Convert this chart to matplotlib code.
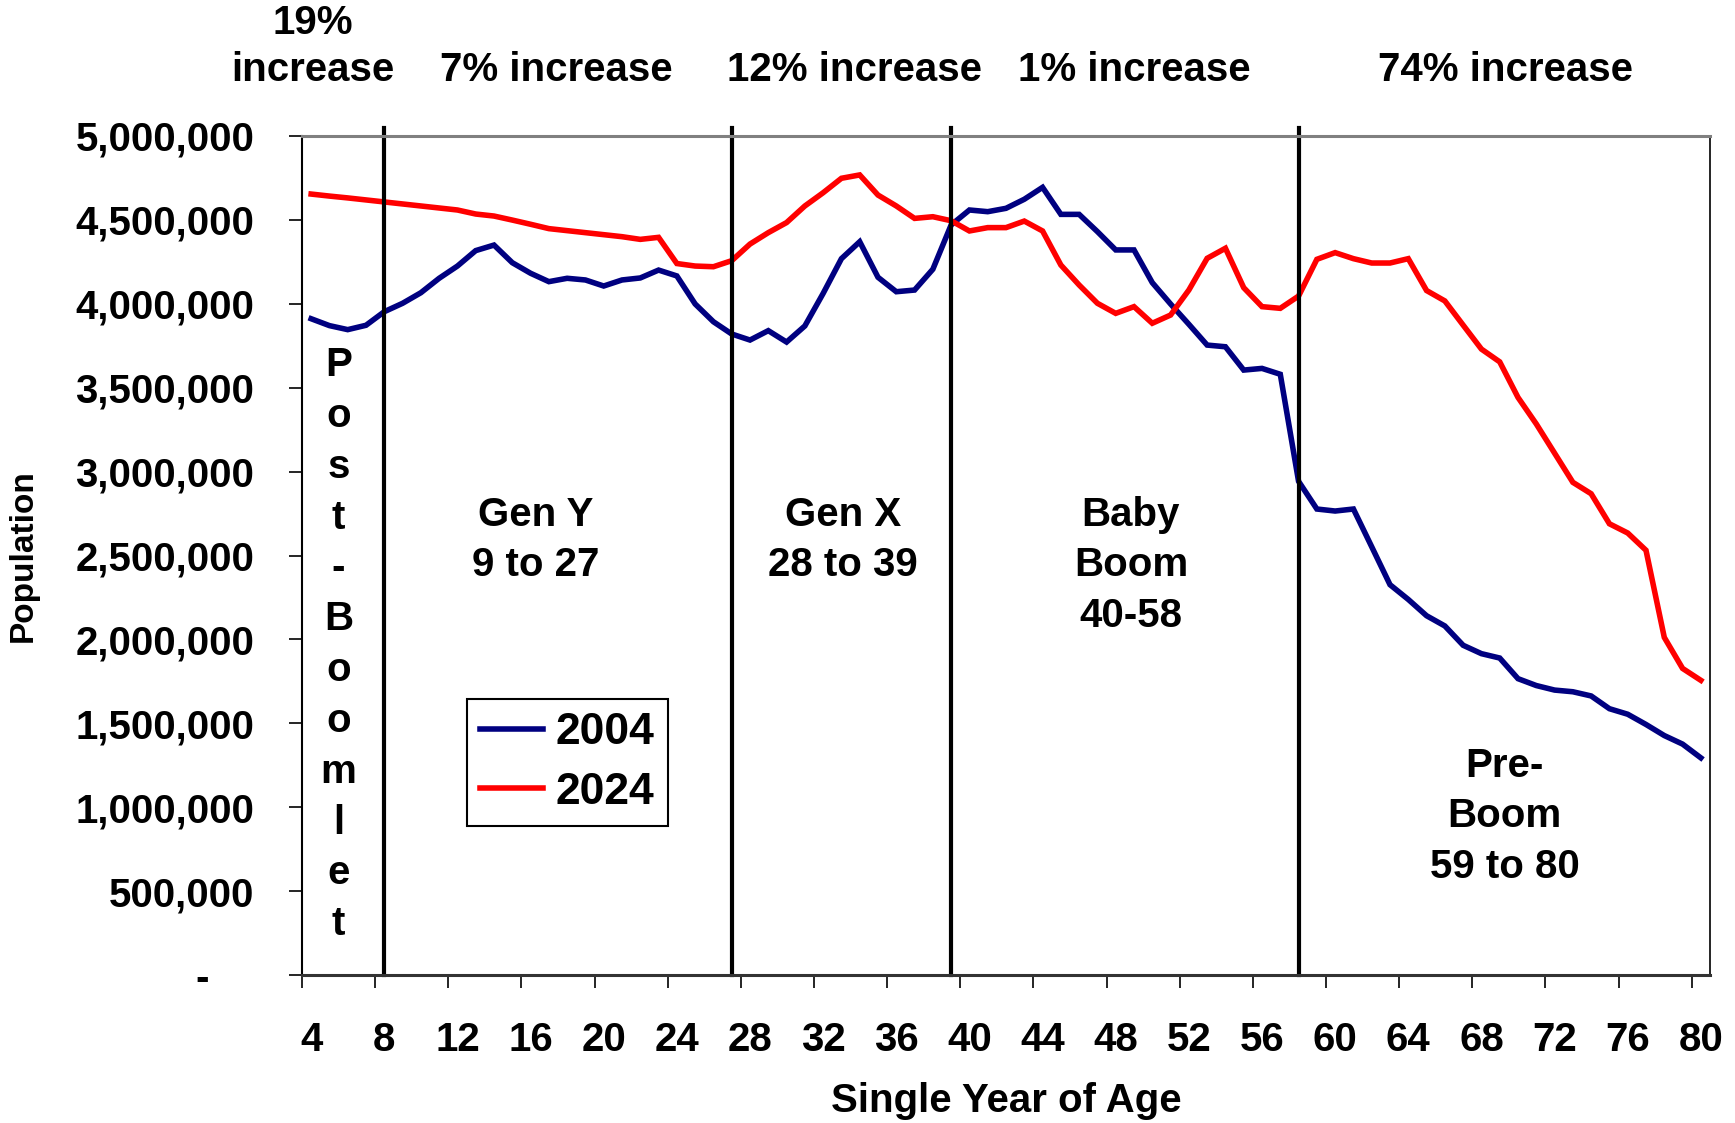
import matplotlib
matplotlib.use('Agg')
import matplotlib.pyplot as plt
import numpy as np
from matplotlib.ticker import FuncFormatter, MultipleLocator, FixedLocator

plt.rcParams['font.family'] = ['Liberation Sans', 'DejaVu Sans']
plt.rcParams['font.weight'] = 'bold'

# -------- Data (population by single year of age) --------
ages = list(range(4, 81))

pop_2004 = [3911, 3870, 3846, 3872, 3953, 4003, 4066, 4152, 4225, 4317,
            4350, 4245, 4182, 4132, 4152, 4142, 4106, 4142, 4154, 4201,
            4166, 3999, 3893, 3820, 3784, 3840, 3772, 3868, 4062, 4269,
            4370, 4158, 4072, 4082, 4206, 4470, 4559, 4549, 4569, 4623,
            4694, 4533, 4533, 4430, 4321, 4321, 4126, 3999, 3878, 3754,
            3744, 3605, 3615, 3580, 2942, 2777, 2765, 2777, 2552, 2326,
            2238, 2141, 2080, 1965, 1915, 1889, 1766, 1725, 1698, 1688,
            1663, 1587, 1554, 1493, 1427, 1376, 1294]

pop_2024 = [4654, 4642, 4631, 4619, 4607, 4595, 4583, 4571, 4559, 4535,
            4523, 4499, 4474, 4448, 4436, 4424, 4412, 4400, 4384, 4396,
            4240, 4225, 4221, 4257, 4356, 4424, 4484, 4583, 4662, 4748,
            4768, 4648, 4583, 4509, 4519, 4495, 4434, 4454, 4454, 4493,
            4434, 4231, 4112, 4003, 3943, 3983, 3884, 3933, 4082, 4271,
            4331, 4096, 3983, 3973, 4046, 4265, 4305, 4269, 4243, 4243,
            4269, 4079, 4017, 3873, 3730, 3654, 3442, 3284, 3110, 2936,
            2868, 2689, 2634, 2531, 2012, 1827, 1756]

pop_2004 = [v * 1000 for v in pop_2004]
pop_2024 = [v * 1000 for v in pop_2024]

# last age of each generation
group_ends = [8, 27, 39, 58]
increase_labels = ['19%\nincrease', '7% increase', '12% increase',
                   '1% increase', '74% increase']
increase_x = [4.1, 17.4, 33.7, 49.0, 69.3]

group_labels = [['Gen Y', '9 to 27'],
                ['Gen X', '28 to 39'],
                ['Baby', 'Boom', '40-58'],
                ['Pre-', 'Boom', '59 to 80']]
group_x = [16.27, 33.08, 48.83, 69.27]
group_y = [2744000, 2744000, 2744000, 1246000]

# -------- Figure --------
W, H = 1735, 1123
fig = plt.figure(figsize=(W / 100, H / 100), dpi=100)
ax = fig.add_axes([302 / W, 1 - 975 / H, (1710 - 302) / W, (975 - 136) / H])

ax.plot(ages, pop_2004, color='#000080', lw=4, label='2004',
        solid_joinstyle='miter')
ax.plot(ages, pop_2024, color='#FF0000', lw=4, label='2024',
        solid_joinstyle='miter')

for a in group_ends:
    ax.axvline(a, ymin=0, ymax=1.0095, color='black', lw=3, clip_on=False)

ax.set_xlim(3.5, 80.5)
ax.set_ylim(0, 5000000)

# -------- Axes styling --------
ax.spines['top'].set_color('#808080')
ax.spines['top'].set_linewidth(2.2)
ax.spines['left'].set_linewidth(1.5)
ax.spines['bottom'].set_linewidth(2.2)
ax.spines['bottom'].set_color('#333333')
ax.spines['right'].set_linewidth(1.2)

ax.yaxis.set_major_locator(MultipleLocator(500000))
ax.yaxis.set_major_formatter(
    FuncFormatter(lambda v, p: '-    ' if v == 0 else f'{v:,.0f}'))
ax.tick_params(axis='y', direction='out', length=9.4, width=1.2,
               pad=25, labelsize=29)

ax.xaxis.set_major_locator(FixedLocator(list(range(4, 81, 4))))
ax.xaxis.set_minor_locator(FixedLocator([a - 0.5 for a in range(4, 81, 4)]))
ax.tick_params(axis='x', which='major', length=0, pad=33, labelsize=29)
ax.tick_params(axis='x', which='minor', direction='out', length=9, width=1.2)

ax.set_xlabel('Single Year of Age', fontsize=29, fontweight='bold', labelpad=17)
ax.set_ylabel('Population', fontsize=24, fontweight='bold')
ax.yaxis.set_label_coords(-0.187, 0.5)

# -------- Annotations --------
tr = ax.get_xaxis_transform()
for lbl, x in zip(increase_labels, increase_x):
    if '\n' in lbl:
        top, bottom = lbl.split('\n')
        ax.text(x, 1.1347, top, transform=tr, ha='center', va='center',
                fontsize=29, fontweight='bold')
        ax.text(x, 1.0787, bottom, transform=tr, ha='center', va='center',
                fontsize=29, fontweight='bold')
    else:
        ax.text(x, 1.0787, lbl, transform=tr, ha='center', va='center',
                fontsize=29, fontweight='bold')

for lines, x, y in zip(group_labels, group_x, group_y):
    for i, line in enumerate(lines):
        ax.annotate(line, xy=(x, y), xytext=(0, -i * 36.4),
                    textcoords='offset points', ha='center', va='center',
                    fontsize=29, fontweight='bold')

for i, ch in enumerate('Post-Boomlet'):
    ax.annotate(ch, xy=(5.5, 3635000), xytext=(0, -i * 36.6),
                textcoords='offset points', ha='center', va='center',
                fontsize=29, fontweight='bold')

leg = ax.legend(loc='upper left', bbox_to_anchor=(0.1172, 0.329),
                borderaxespad=0, fancybox=False, framealpha=1,
                edgecolor='black', prop={'size': 32, 'weight': 'bold'},
                handlelength=1.4, handletextpad=0.3, labelspacing=0.42,
                borderpad=0.3)
leg.get_frame().set_linewidth(1.5)

fig.savefig('out.png', dpi=100)
